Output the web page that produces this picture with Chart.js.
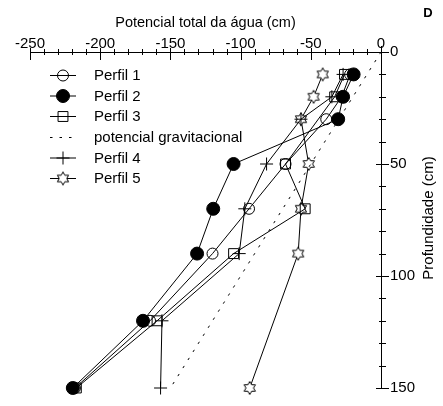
<!DOCTYPE html>
<html>
<head>
<meta charset="utf-8">
<script src="https://cdn.jsdelivr.net/npm/chart.js@4/dist/chart.umd.min.js"></script>
<style>
  html, body { margin: 0; padding: 0; background: #fff; }
</style>
</head>
<body>
<canvas id="perfil_chart" width="443" height="406"></canvas>
<script>
var FONT = "'Liberation Sans', Arial, Helvetica, sans-serif";

// profundidade (cm) e potencial total da agua (cm) de cada perfil
var prof1 = [10, 20, 30, 50, 70, 90, 120, 150];
var pot1 = [-22, -28, -39, -68, -94, -120, -164.5, -218];
var prof2 = [10, 20, 30, 50, 70, 90, 120, 150];
var pot2 = [-19.5, -27, -30.5, -105, -119.5, -131, -169.5, -219.5];
var prof3 = [10, 20, 50, 70, 90, 120, 150];
var pot3 = [-26, -33, -68, -54, -105, -159.5, -217];
var prof4 = [10, 20, 30, 50, 70, 90, 120, 150];
var pot4 = [-27, -35, -57, -81.5, -97, -101, -156, -157];
var prof5 = [10, 20, 30, 50, 70, 90, 150];
var pot5 = [-41.5, -48, -57, -51.5, -57, -59, -93.5];
// potencial gravitacional = -profundidade
var profGrav = [0, 150];
var potGrav = [0, -150];

function pontos(pot, prof) {
  return pot.map(function (v, i) { return { x: v, y: prof[i] }; });
}

// estrela de seis pontas (nao existe no Chart.js)
function estrela(r) {
  var s = Math.ceil(r * 2 + 3);
  var c = document.createElement("canvas");
  c.width = s;
  c.height = s;
  var g = c.getContext("2d");
  var cx = s / 2, cy = s / 2;
  g.beginPath();
  for (var i = 0; i < 12; i++) {
    var a = -Math.PI / 2 + i * Math.PI / 6;
    var rr = i % 2 === 0 ? r : r / Math.sqrt(3);
    var px = cx + rr * Math.cos(a), py = cy + rr * Math.sin(a);
    if (i === 0) g.moveTo(px, py); else g.lineTo(px, py);
  }
  g.closePath();
  g.fillStyle = "#fff";
  g.fill();
  g.strokeStyle = "#000";
  g.lineWidth = 1;
  g.stroke();
  return c;
}

function serie(label, data, style, radius, fill) {
  return {
    label: label,
    data: data,
    showLine: true,
    borderColor: "#000",
    borderWidth: 1,
    pointStyle: style,
    pointRadius: radius,
    pointBorderColor: "#000",
    pointBorderWidth: 1,
    pointBackgroundColor: fill,
    clip: false,
  };
}

var dsGrav = {
  label: "potencial gravitacional",
  data: pontos(potGrav, profGrav),
  showLine: true,
  borderColor: "#000",
  borderWidth: 1,
  borderDash: [2.5, 7],
  pointRadius: 0,
  pointStyle: false,
  clip: false,
};

// marcas dos eixos cruzando a linha, legenda e textos extras
var extras = {
  id: "extras",
  afterDraw: function (chart) {
    var ctx = chart.ctx;
    var xs = chart.scales.x, ys = chart.scales.y;
    var top = chart.chartArea.top, right = chart.chartArea.right;
    ctx.save();
    ctx.strokeStyle = "#000";
    ctx.lineWidth = 1;
    ctx.beginPath();
    for (var v = -250; v <= 0; v += 10) {
      var px = Math.round(xs.getPixelForValue(v)) + 0.5;
      var major = v % 50 === 0;
      ctx.moveTo(px, top - (major ? 4 : 3));
      ctx.lineTo(px, top + (major ? 8 : 3));
    }
    for (var d = 0; d <= 150; d += 10) {
      var py = Math.round(ys.getPixelForValue(d)) + 0.5;
      var maj = d % 50 === 0;
      ctx.moveTo(right - (maj ? 5 : 2), py);
      ctx.lineTo(right + (maj ? 8 : 5), py);
    }
    // eixo vertical sobe um pouco acima do horizontal
    ctx.moveTo(right + 0.5, top - 6);
    ctx.lineTo(right + 0.5, top);
    ctx.stroke();

    // titulo do eixo vertical
    ctx.fillStyle = "#000";
    ctx.font = "15px " + FONT;
    ctx.textAlign = "center";
    ctx.textBaseline = "middle";
    ctx.save();
    ctx.translate(429, 218);
    ctx.rotate(-Math.PI / 2);
    ctx.fillText("Profundidade (cm)", 0, 0);
    ctx.restore();

    ctx.font = "bold 13px " + FONT;
    ctx.fillText("D", 428, 13);

    // legenda
    ctx.font = "15px " + FONT;
    ctx.textAlign = "left";
    var linhas = [75, 95.5, 116, 137, 157.5, 178];
    chart.data.datasets.forEach(function (ds, i) {
      var y = linhas[i];
      ctx.save();
      ctx.strokeStyle = "#000";
      ctx.lineWidth = 1;
      ctx.setLineDash(ds.borderDash || []);
      ctx.beginPath();
      ctx.moveTo(50, y + 0.5);
      ctx.lineTo(76, y + 0.5);
      ctx.stroke();
      ctx.setLineDash([]);
      if (ds.pointStyle) {
        ctx.fillStyle = ds.pointBackgroundColor;
        Chart.helpers.drawPoint(ctx, {
          pointStyle: ds.pointStyle,
          radius: ds.pointRadius,
          borderWidth: 1,
          rotation: 0,
        }, 63, y + 0.5);
      }
      ctx.restore();
      ctx.fillText(ds.label, 94, y + 1);
    });
    ctx.restore();
  },
};

var ctx = document.getElementById("perfil_chart").getContext("2d");
var perfil_chart = new Chart(ctx, {
  type: "scatter",
  data: {
    datasets: [
      serie("Perfil 1", pontos(pot1, prof1), "circle", 5.5, "rgba(255,255,255,0)"),
      serie("Perfil 2", pontos(pot2, prof2), "circle", 6.5, "#000"),
      serie("Perfil 3", pontos(pot3, prof3), "rect", 7, "rgba(255,255,255,0)"),
      dsGrav,
      serie("Perfil 4", pontos(pot4, prof4), "cross", 6.5, "#000"),
      serie("Perfil 5", pontos(pot5, prof5), estrela(6.5), 6.5, "#fff"),
    ],
  },
  options: {
    responsive: false,
    animation: false,
    layout: { padding: { left: 30, right: 0, top: 0, bottom: 11 } },
    plugins: {
      legend: { display: false },
      tooltip: { enabled: false },
    },
    scales: {
      x: {
        type: "linear",
        position: "top",
        min: -250,
        max: 0,
        afterFit: function (scale) { scale.height = 52; },
        grid: { display: true, drawOnChartArea: false, drawTicks: false },
        border: { display: true, color: "#000", width: 1 },
        ticks: {
          stepSize: 10,
          autoSkip: false,
          maxRotation: 0,
          padding: -1,
          color: "#000",
          font: { family: FONT, size: 15 },
          callback: function (v) { return v % 50 === 0 ? String(v) : ""; },
        },
        title: {
          display: true,
          text: "Potencial total da água (cm)",
          color: "#000",
          font: { family: FONT, size: 14.5 },
          padding: { top: 14, bottom: 0 },
        },
      },
      y: {
        type: "linear",
        position: "right",
        reverse: true,
        min: 0,
        max: 150,
        afterFit: function (scale) { scale.width = 62; },
        grid: { display: true, drawOnChartArea: false, drawTicks: false },
        border: { display: true, color: "#000", width: 1 },
        ticks: {
          stepSize: 10,
          autoSkip: false,
          padding: 9,
          color: "#000",
          font: { family: FONT, size: 15 },
          callback: function (v) { return v % 50 === 0 ? String(v) : ""; },
        },
      },
    },
  },
  plugins: [extras],
});
</script>
</body>
</html>
